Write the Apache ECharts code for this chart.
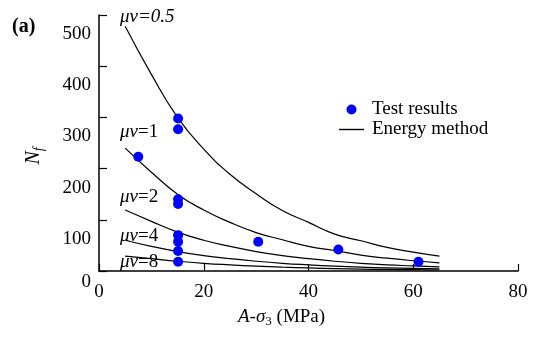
<!DOCTYPE html>
<html>
<head>
<meta charset="utf-8">
<script src="https://cdn.jsdelivr.net/npm/echarts@6/dist/echarts.min.js"></script>
<style>
  html, body { margin: 0; padding: 0; background: #fff; }
  #chart { width: 534px; height: 337px; }
</style>
</head>
<body>
<div id="chart"></div>
<script>
// energy method curves, N_f vs A-sigma3
const curveX = [5, 10, 15, 20, 25, 30, 35, 40, 45, 50, 55, 60, 65];
const nfMu05 = [478, 384, 300, 238, 189, 151, 118, 95, 72, 59, 46, 37, 29];
const nfMu1 = [240, 193, 150, 119, 95, 75, 61, 48, 40, 31, 25, 20, 16];
const nfMu2 = [119, 97, 76, 60, 48, 38, 30, 24, 19, 15, 12, 10, 8];
const nfMu4 = [60, 48, 38, 30, 24, 19, 15, 12, 9.5, 7.5, 6, 5, 4];
const nfMu8 = [29, 24, 19, 15, 12, 9.5, 7.5, 6, 4.7, 3.7, 3, 2.5, 2];

// test results
const testX = [7.5, 15.1, 15.1, 15.1, 15.1, 15.1, 15.1, 15.1, 15.1, 30.4, 45.7, 61.0];
const testY = [223, 298, 277, 140, 131, 70, 57, 39, 18, 57, 42, 18];

const xTicks = [0, 20, 40, 60, 80];
const yTicks = [0, 100, 200, 300, 400, 500];

const FONT = 'Liberation Serif';

const zip = (xs, ys) => xs.map((x, i) => [x, ys[i]]);

const chart = echarts.init(document.getElementById('chart'));

function curve(vals) {
    return {
        name: 'Energy method',
        type: 'line',
        smooth: true,
        symbol: 'none',
        lineStyle: { color: '#000', width: 1.2 },
        itemStyle: { color: '#000' },
        data: zip(curveX, vals),
        z: 2
    };
}

// curve labels mu*v = ...
function muLabel(x, y, rest, restItalic) {
    return {
        type: 'text',
        x: x,
        y: y,
        style: {
            text: '{i|μv}{' + (restItalic ? 'i' : 'n') + '|' + rest + '}',
            textVerticalAlign: 'middle',
            rich: {
                i: { fontFamily: FONT, fontSize: 19, fontStyle: 'italic', fill: '#000' },
                n: { fontFamily: FONT, fontSize: 19, fill: '#000' }
            }
        }
    };
}

const option = {
    animation: false,
    grid: { left: 99, right: 16, top: 15, bottom: 66 },
    legend: {
        orient: 'vertical',
        left: 339,
        top: 100,
        padding: 0,
        itemWidth: 25,
        itemHeight: 10,
        itemGap: 1,
        textStyle: { fontFamily: FONT, fontSize: 19, color: '#000', lineHeight: 19, padding: [0, 0, 0, 3] },
        data: [
            { name: 'Test results', icon: 'circle' },
            { name: 'Energy method', icon: 'path://M0,0 H25 V1.4 H0 Z' }
        ]
    },
    xAxis: {
        type: 'value',
        min: 0,
        max: 80,
        interval: 20,
        splitLine: { show: false },
        axisLine: { lineStyle: { color: '#000', width: 1.5 } },
        axisTick: { inside: true, length: 7, lineStyle: { color: '#000', width: 1.2 } },
        axisLabel: {
            margin: 12,
            fontFamily: FONT,
            fontSize: 19,
            color: '#000',
            formatter: v => xTicks.includes(v) ? String(v) : ''
        }
    },
    yAxis: {
        type: 'value',
        min: 0,
        max: 500,
        interval: 100,
        splitLine: { show: false },
        axisLine: { show: true, lineStyle: { color: '#000', width: 1.5 } },
        axisTick: { show: true, inside: true, length: 8, lineStyle: { color: '#000', width: 1.2 } },
        axisLabel: {
            margin: 8,
            color: '#000',
            formatter: v => yTicks.includes(v) ? (v === 0 ? '{z|0}' : '{a|' + v + '}') : '',
            rich: {
                a: { fontFamily: FONT, fontSize: 19, color: '#000', padding: [38, 0, 0, 0] },
                z: { fontFamily: FONT, fontSize: 19, color: '#000', padding: [22, 0, 0, 0] }
            }
        }
    },
    series: [
        curve(nfMu05),
        curve(nfMu1),
        curve(nfMu2),
        curve(nfMu4),
        curve(nfMu8),
        {
            name: 'Test results',
            type: 'scatter',
            symbol: 'circle',
            symbolSize: 10,
            itemStyle: { color: '#0000ff', opacity: 1 },
            data: zip(testX, testY),
            z: 3
        }
    ],
    graphic: [
        {
            type: 'text',
            x: 12,
            y: 27,
            style: { text: '(a)', font: 'bold 20px "Liberation Serif"', fill: '#000', textVerticalAlign: 'middle' }
        },
        muLabel(120, 17, '=0.5', true),
        muLabel(120, 132, '=1', false),
        muLabel(120, 197, '=2', false),
        muLabel(120, 236, '=4', false),
        muLabel(120, 262, '=8', false),
        {
            type: 'text',
            x: 34,
            y: 156,
            rotation: Math.PI / 2,
            style: {
                text: '{n|N}{s|f}',
                textAlign: 'center',
                textVerticalAlign: 'middle',
                rich: {
                    n: { fontFamily: FONT, fontSize: 20, fontStyle: 'italic', fill: '#000' },
                    s: { fontFamily: FONT, fontSize: 14, fontStyle: 'italic', fill: '#000', padding: [10, 0, 0, 0] }
                }
            }
        },
        {
            type: 'text',
            x: 238,
            y: 317,
            style: {
                text: '{i|A}{n|-}{i|σ}{s|3}{n| (MPa)}',
                textVerticalAlign: 'middle',
                rich: {
                    i: { fontFamily: FONT, fontSize: 19, fontStyle: 'italic', fill: '#000' },
                    n: { fontFamily: FONT, fontSize: 19, fill: '#000' },
                    s: { fontFamily: FONT, fontSize: 13, fill: '#000', padding: [10, 0, 0, 0] }
                }
            }
        }
    ]
};

chart.setOption(option);
</script>
</body>
</html>
